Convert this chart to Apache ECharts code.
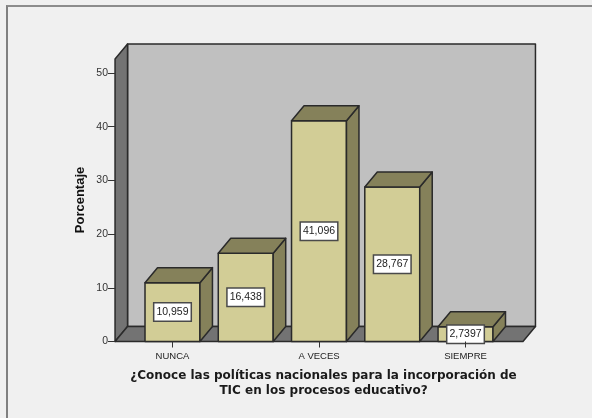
<!DOCTYPE html>
<html>
<head>
<meta charset="utf-8">
<style>
html,body{margin:0;padding:0;background:#f0f0f0;}
#frame{position:absolute;left:6px;top:5px;width:586px;height:413px;border-left:2px solid #808080;border-top:2px solid #8c8c8c;box-sizing:border-box;}
#c{position:absolute;left:0;top:0;width:592px;height:418px;}
</style>
<script src="https://cdn.jsdelivr.net/npm/echarts@6/dist/echarts.min.js"></script>
</head>
<body>
<div id="frame"></div>
<div id="c"></div>
<script>
var categories = ['NUNCA', '', 'A VECES', '', 'SIEMPRE'];
var values = [10.959, 16.438, 41.096, 28.767, 2.7397];
var valueLabels = ['10,959', '16,438', '41,096', '28,767', '2,7397'];
var xTitle = '¿Conoce las políticas nacionales para la incorporación de\nTIC en los procesos educativo?';
var yTitle = 'Porcentaje';

var DX = 12.5, DY = 15, EDGE = '#2a2a2a', WALL_TOP = 52.6, SIDE_BANDS = 0.784, BAR = 0.75;

function poly(points, fill) {
  return { type: 'polygon', shape: { points: points },
    style: { fill: fill, stroke: EDGE, lineWidth: 1.5, lineJoin: 'round' } };
}

var chart = echarts.init(document.getElementById('c'), null, { renderer: 'canvas' });
chart.setOption({
  backgroundColor: 'transparent',
  animation: false,
  grid: { left: 135.85, right: 89.85, top: 73, bottom: 76.5 },
  textStyle: { fontFamily: 'Liberation Sans' },
  xAxis: {
    type: 'category', data: categories,
    axisLine: { show: false },
    axisTick: { show: true, alignWithLabel: true, interval: 1, length: 6, lineStyle: { color: '#333', width: 1 } },
    axisLabel: { interval: 0, color: '#222', fontSize: 9.5, margin: 10 },
    splitLine: { show: false }, z: 10
  },
  yAxis: {
    type: 'value', min: 0, max: 50, interval: 10,
    offset: 20.85,
    axisLine: { show: false },
    axisTick: { show: true, length: 7, lineStyle: { color: '#333', width: 1 } },
    axisLabel: { color: '#333', fontSize: 10.5, margin: 7 },
    splitLine: { show: false }, z: 10
  },
  graphic: [
    { type: 'text', x: 80, y: 200, rotation: Math.PI / 2, style: { text: yTitle, fontFamily: 'Liberation Sans', fontWeight: 'bold', fontSize: 13, fill: '#111', align: 'center', verticalAlign: 'middle' } },
    { type: 'text', x: 323.5, y: 383.5, style: { text: xTitle, fontFamily: 'DejaVu Sans', fontWeight: 'bold', fontSize: 12, lineHeight: 15, fill: '#1a1a1a', align: 'center', verticalAlign: 'middle' } }
  ],
  series: [
    {
      type: 'custom', silent: true, clip: false, z: 1,
      data: [[0, 0]],
      renderItem: function (params, api) {
        var band = api.size([1, 0])[0];
        var p0 = api.coord([0, 0]);
        var pe = api.coord([categories.length - 1, 0]);
        var t = api.coord([0, WALL_TOP]);
        var xl = p0[0] - SIDE_BANDS * band, xr = pe[0] + SIDE_BANDS * band;
        var yb = p0[1], yt = t[1];
        return { type: 'group', children: [
          poly([[xl + DX, yt - DY], [xr + DX, yt - DY], [xr + DX, yb - DY], [xl + DX, yb - DY]], '#c0c0c0'),
          poly([[xl, yt], [xl + DX, yt - DY], [xl + DX, yb - DY], [xl, yb]], '#737373'),
          poly([[xl, yb], [xl + DX, yb - DY], [xr + DX, yb - DY], [xr, yb]], '#737373')
        ] };
      }
    },
    {
      type: 'custom', silent: true, clip: false, z: 2,
      data: values.map(function (v, i) { return [i, v]; }),
      encode: { x: 0, y: 1 },
      renderItem: function (params, api) {
        var i = api.value(0), v = api.value(1);
        var band = api.size([1, 0])[0];
        var w = BAR * band;
        var top = api.coord([i, v]), base = api.coord([i, 0]);
        var x0 = top[0] - w / 2, x1 = top[0] + w / 2, yt = top[1], yb = base[1];
        var cy = (yt + yb) / 2;
        return { type: 'group', children: [
          poly([[x0, yt], [x1, yt], [x1, yb], [x0, yb]], '#d2cd96'),
          poly([[x1, yt], [x1 + DX, yt - DY], [x1 + DX, yb - DY], [x1, yb]], '#85815a'),
          poly([[x0, yt], [x0 + DX, yt - DY], [x1 + DX, yt - DY], [x1, yt]], '#85815a'),
          { type: 'text', x: top[0], y: cy, style: { text: valueLabels[i], fontFamily: 'Liberation Sans', fontSize: 10.5, fill: '#222', align: 'center', verticalAlign: 'middle',
            backgroundColor: '#fff', borderColor: '#4a4a4a', borderWidth: 1.5, padding: [3, 2, 3, 2] } }
        ] };
      }
    }
  ]
});
</script>
</body>
</html>
